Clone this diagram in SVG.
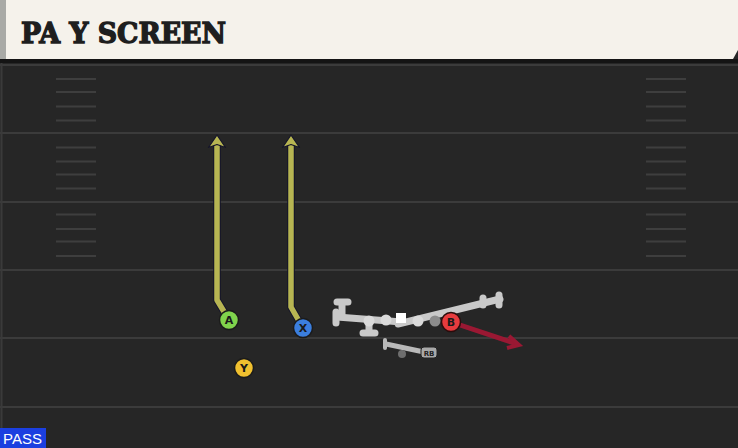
<svg xmlns="http://www.w3.org/2000/svg" width="738" height="448" viewBox="0 0 738 448">
<style>
.yard{stroke:#3b3b3b;stroke-width:2}
.hash{stroke:#3e3e3e;stroke-width:2}
.route{fill:none;stroke-linejoin:round;stroke-linecap:butt}
.outline{stroke:#15152a;stroke-width:7.5}
.olive{stroke:#b7b552;stroke-width:5.5}
.red{stroke:#9a1833;stroke-width:5}
.bar{stroke:#c9c9c9;stroke-width:7;stroke-linecap:round;fill:none}
.lbl{font-family:"DejaVu Sans","Liberation Sans",sans-serif;font-weight:bold;font-size:11px;text-anchor:middle;fill:#1a1a1a}
.head{fill:#b7b552;stroke:#15152a;stroke-width:1.2;stroke-linejoin:round}
</style>
<defs>
<g id="hashset">
<line class="hash" x1="56" y1="0" x2="96" y2="0"/>
<line class="hash" x1="646" y1="0" x2="686" y2="0"/>
</g>
</defs>
<rect x="0" y="0" width="738" height="448" fill="#262626"/>
<g id="field">
<line class="yard" x1="0" y1="65" x2="738" y2="65"/>
<line class="yard" x1="0" y1="133" x2="738" y2="133"/>
<line class="yard" x1="0" y1="202" x2="738" y2="202"/>
<line class="yard" x1="0" y1="270" x2="738" y2="270"/>
<line class="yard" x1="0" y1="338" x2="738" y2="338"/>
<line class="yard" x1="0" y1="407" x2="738" y2="407"/>
<use href="#hashset" y="79"/><use href="#hashset" y="92"/><use href="#hashset" y="106.5"/><use href="#hashset" y="120.5"/>
<use href="#hashset" y="147.5"/><use href="#hashset" y="161.5"/><use href="#hashset" y="174.5"/><use href="#hashset" y="188.5"/>
<use href="#hashset" y="214.5"/><use href="#hashset" y="229"/><use href="#hashset" y="241.5"/><use href="#hashset" y="256"/>
<line x1="1.5" y1="63" x2="1.5" y2="448" stroke="#3a3a3a" stroke-width="2"/>
</g>
<g id="header">
<path d="M0,0 H738 V50 L733,59 H0 Z" fill="#f5f2eb"/>
<rect x="0" y="0" width="6" height="59" fill="#a9aaa6"/>
<rect x="0" y="59" width="738" height="4" fill="#141414"/>
<text x="21" y="43" font-family="'DejaVu Serif','Liberation Serif',serif" font-weight="bold" font-size="28" fill="#1e1e1e" stroke="#1e1e1e" stroke-width="1.4" stroke-linejoin="miter" textLength="205" lengthAdjust="spacingAndGlyphs">PA Y SCREEN</text>
</g>
<g id="connectors">
<path class="route outline" d="M229,320 L217,300 L217,144"/>
<path class="route olive" d="M229,320 L217,300 L217,144"/>
<polygon class="head" points="217,135 225.5,147.5 217,144.5 208.5,147.5"/>
<path class="route outline" d="M303,328 L291,307 L291,144"/>
<path class="route olive" d="M303,328 L291,307 L291,144"/>
<polygon class="head" points="291,135 299.5,147.5 291,144.5 282.5,147.5"/>
<path class="route red" d="M451,322 L517,344"/>
<polyline points="509,336 519,345 507,348" fill="none" stroke="#9a1833" stroke-width="4" stroke-linejoin="miter"/>
</g>
<g id="oline">
<path class="bar" d="M337,317 L402,322"/>
<path class="bar" d="M398,324 L500,299"/>
<path class="bar" d="M342,302 V314 M337,302 H348"/>
<path class="bar" d="M336,312 V323"/>
<path class="bar" d="M369,321 V333 M363,333 H375"/>
<path class="bar" d="M483,298 V305"/>
<path class="bar" d="M499,295 V305"/>
<circle cx="369" cy="321" r="5.5" fill="#dadada"/>
<circle cx="386" cy="320" r="5.5" fill="#dadada"/>
<rect x="396" y="313" width="10" height="10" fill="#ffffff"/>
<circle cx="418" cy="321" r="5.5" fill="#dadada"/>
<circle cx="435" cy="321" r="5.5" fill="#8c8c8c"/>
</g>
<g id="rb">
<path d="M386,344 L424,352" stroke="#b9b9b9" stroke-width="5" stroke-linecap="round"/>
<path d="M385,340 V348" stroke="#b9b9b9" stroke-width="4" stroke-linecap="round"/>
<circle cx="402" cy="354" r="4" fill="#6e6e6e"/>
<rect x="421" y="347" width="16" height="11" rx="3" fill="#a9a9a9" stroke="#222" stroke-width="1"/>
<text x="429" y="356" font-family="'DejaVu Sans','Liberation Sans',sans-serif" font-weight="bold" font-size="7" text-anchor="middle" fill="#222">RB</text>
</g>
<g id="A">
<circle cx="229" cy="320" r="9.5" fill="#80d34c" stroke="#1b1b1b" stroke-width="1.5"/>
<text class="lbl" x="229" y="324">A</text>
</g>
<g id="X">
<circle cx="303" cy="328" r="9.5" fill="#3b7ede" stroke="#1b1b1b" stroke-width="1.5"/>
<text class="lbl" x="303" y="332">X</text>
</g>
<g id="Y">
<circle cx="244" cy="368" r="9.5" fill="#f0c02f" stroke="#1b1b1b" stroke-width="1.5"/>
<text class="lbl" x="244" y="372">Y</text>
</g>
<g id="B">
<circle cx="451" cy="322" r="9.5" fill="#e63b3e" stroke="#2a0c0c" stroke-width="1.5"/>
<text class="lbl" x="451" y="326" fill="#2a0a0a">B</text>
</g>
<g id="pass">
<rect x="0" y="428" width="46" height="20" fill="#1b3fe0"/>
<text x="3" y="444" font-family="'Liberation Sans','DejaVu Sans',sans-serif" font-size="15" fill="#ffffff">PASS</text>
</g>
</svg>
